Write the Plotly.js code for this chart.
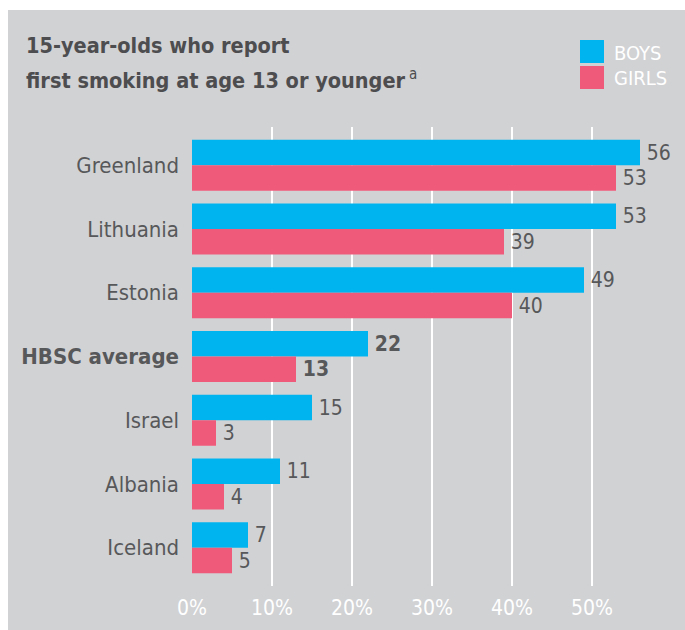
<!DOCTYPE html>
<html>
<head>
<meta charset="utf-8">
<script src="https://cdn.plot.ly/plotly-3.0.1.min.js"></script>
<style>
  html, body { margin: 0; padding: 0; background: #ffffff; width: 685px; height: 630px; overflow: hidden; }
  #chart { position: absolute; left: 8px; top: 10px; width: 677px; height: 620px; }
</style>
</head>
<body>
<div id="chart"></div>
<script>
const categories = ["Greenland", "Lithuania", "Estonia", "HBSC average", "Israel", "Albania", "Iceland"];
const boys  = [56, 53, 49, 22, 15, 11, 7];
const girls = [53, 39, 40, 13, 3, 4, 5];
const xTickVals = [0, 10, 20, 30, 40, 50];
const xTickText = ["0%", "10%", "20%", "30%", "40%", "50%"];
const highlight = "HBSC average";

const FONT = '"DejaVu Sans Condensed", "Liberation Sans Narrow", "Roboto", sans-serif';
const BG = '#d1d2d4';
const BOYS_C = '#00b5ef';
const GIRLS_C = '#f05a7a';
const TXT = '#57585a';

function labels(vals) {
  return vals.map((v, i) => '\u2009' + (categories[i] === highlight ? '<b>' + v + '</b>' : String(v)));
}

const common = {
  type: 'bar', orientation: 'h', y: categories,
  textposition: 'outside', cliponaxis: false, constraintext: 'none',
  textfont: { family: FONT, size: 21, color: TXT },
  hoverinfo: 'none'
};

const traces = [
  Object.assign({}, common, { name: 'BOYS', x: boys, text: labels(boys), marker: { color: BOYS_C } }),
  Object.assign({}, common, { name: 'GIRLS', x: girls, text: labels(girls), marker: { color: GIRLS_C } })
];

const layout = {
  width: 677, height: 620,
  margin: { l: 184, r: 13, t: 117, b: 44, pad: 0 },
  paper_bgcolor: BG, plot_bgcolor: BG,
  showlegend: false,
  barmode: 'group', bargap: 0.2, bargroupgap: 0,
  font: { family: FONT, color: TXT },
  xaxis: {
    range: [0, 60], fixedrange: true,
    tickmode: 'array', tickvals: xTickVals, ticktext: xTickText,
    showgrid: true, gridcolor: '#ffffff', gridwidth: 1.5,
    zeroline: true, zerolinecolor: BG, zerolinewidth: 2,
    showline: false, ticks: '',
    tickfont: { family: FONT, size: 21, color: '#ffffff' },
    ticklabelstandoff: 7
  },
  yaxis: {
    type: 'category', range: [6.6, -0.6], fixedrange: true,
    tickmode: 'array', tickvals: categories,
    ticktext: categories.map(c => c === highlight ? '<b>' + c + '</b>' : c),
    showgrid: false, zeroline: false, showline: false, ticks: '',
    tickfont: { family: FONT, size: 22, color: TXT },
    ticklabelstandoff: 12
  },
  shapes: [
    { type: 'rect', xref: 'x', yref: 'y', xsizemode: 'pixel', xanchor: 0, x0: -3, x1: 0,
      y0: -0.42, y1: 6.42, fillcolor: '#ffffff', line: { width: 0 }, layer: 'above' },
    { type: 'rect', xref: 'paper', yref: 'paper', x0: 0.8083, x1: 0.8583, y0: 1.1394, y1: 1.1895,
      fillcolor: BOYS_C, line: { width: 0 } },
    { type: 'rect', xref: 'paper', yref: 'paper', x0: 0.8083, x1: 0.8583, y0: 1.0828, y1: 1.1329,
      fillcolor: GIRLS_C, line: { width: 0 } }
  ],
  annotations: [
    { xref: 'paper', yref: 'paper', x: -0.35, y: 1.1786, xanchor: 'left', yanchor: 'middle',
      showarrow: false, text: '<b>15-year-olds who report</b>',
      font: { family: FONT, size: 21.5, color: '#4d4d4f' } },
    { xref: 'paper', yref: 'paper', x: -0.35, y: 1.1046, xanchor: 'left', yanchor: 'middle',
      showarrow: false, text: '<b>first smoking at age 13 or younger</b>\u2009<sup>a</sup>',
      font: { family: FONT, size: 21.5, color: '#4d4d4f' } },
    { xref: 'paper', yref: 'paper', x: 0.875, y: 1.1612, xanchor: 'left', yanchor: 'middle',
      showarrow: false, text: 'BOYS', font: { family: FONT, size: 20, color: '#ffffff' } },
    { xref: 'paper', yref: 'paper', x: 0.875, y: 1.1068, xanchor: 'left', yanchor: 'middle',
      showarrow: false, text: 'GIRLS', font: { family: FONT, size: 20, color: '#ffffff' } }
  ]
};

Plotly.newPlot('chart', traces, layout, { displayModeBar: false, staticPlot: true });
</script>
</body>
</html>
